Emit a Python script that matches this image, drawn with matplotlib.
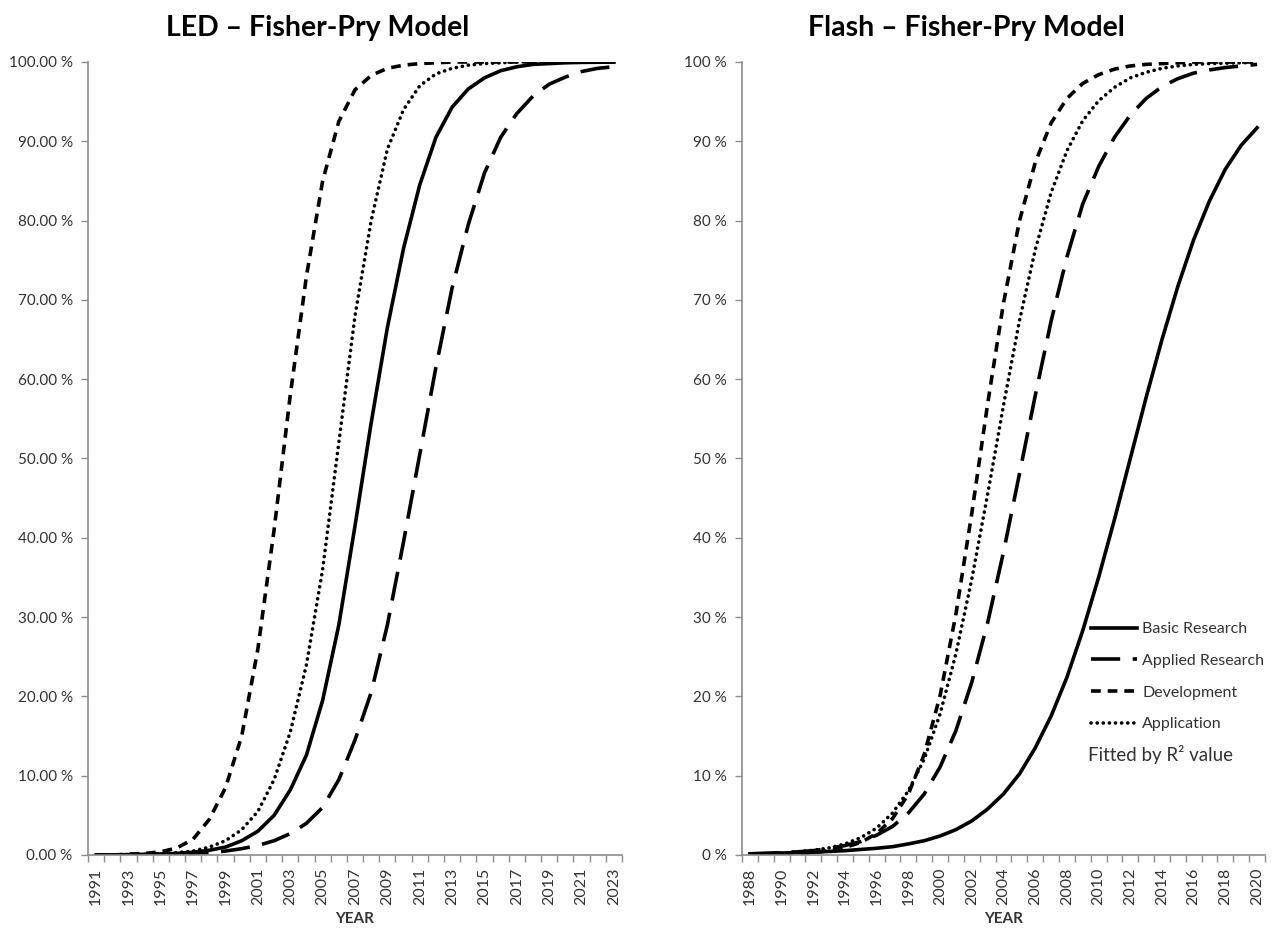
import matplotlib
matplotlib.use('Agg')
import matplotlib.pyplot as plt
import numpy as np
from matplotlib.ticker import FuncFormatter

plt.rcParams['font.family'] = ['Lato', 'DejaVu Sans']
plt.rcParams['lines.scale_dashes'] = False

# LED panel data (percent), 1991-2023
led_years = list(range(1991, 2024))
led_basic = [0.0, 0.0, 0.05, 0.08, 0.12, 0.2, 0.35, 0.6, 1.0, 1.8, 3.0, 5.0, 8.2, 12.6, 19.5, 29.0,
             41.5, 54.5, 66.5, 76.5, 84.5, 90.5, 94.3, 96.6, 98.0, 98.9, 99.4, 99.7, 99.8, 99.9,
             99.95, 99.97, 99.98]
led_applied = [0.0, 0.0, 0.02, 0.04, 0.06, 0.1, 0.2, 0.3, 0.5, 0.8, 1.2, 1.8, 2.7, 4.0, 6.0, 9.5,
               14.5, 20.5, 29.0, 39.5, 50.5, 61.5, 71.5, 79.5, 86.0, 90.5, 93.5, 95.7, 97.2, 98.1,
               98.8, 99.2, 99.4]
led_dev = [0.0, 0.0, 0.1, 0.2, 0.4, 0.9, 2.0, 4.5, 8.5, 15.0, 26.0, 41.0, 58.0, 73.0, 85.0, 92.5,
           96.5, 98.3, 99.2, 99.6, 99.8, 99.9, 100, 100, 100, 100, 100, 100, 100, 100,
           100, 100, 100]
led_app = [0.0, 0.0, 0.05, 0.1, 0.15, 0.3, 0.5, 1.0, 1.8, 3.2, 5.5, 9.5, 15.5, 24.0, 36.0, 52.0,
           68.0, 80.0, 89.0, 94.0, 97.0, 98.5, 99.2, 99.6, 99.8, 99.9, 100, 100, 100, 100,
           100, 100, 100]

# Flash panel data (percent), 1988-2020
flash_years = list(range(1988, 2021))
flash_basic = [0.15, 0.2, 0.25, 0.3, 0.35, 0.45, 0.55, 0.7, 0.85, 1.05, 1.4, 1.8, 2.4, 3.2, 4.3, 5.8,
               7.7, 10.2, 13.5, 17.5, 22.4, 28.3, 35.0, 42.3, 50.0, 57.7, 65.0, 71.7, 77.6, 82.5,
               86.5, 89.5, 91.7]
flash_applied = [0.15, 0.2, 0.3, 0.4, 0.55, 0.8, 1.2, 1.7, 2.5, 3.6, 5.3, 7.7, 11.1, 15.7, 21.8, 29.3,
                 38.2, 48.0, 57.9, 67.3, 75.4, 82.1, 86.8, 90.5, 93.3, 95.4, 96.9, 97.9, 98.6, 99.0,
                 99.3, 99.5, 99.7]
flash_dev = [0.1, 0.1, 0.15, 0.2, 0.32, 0.55, 0.95, 1.6, 2.7, 4.6, 7.7, 12.7, 20.1, 30.4, 43.1, 56.9,
             69.6, 79.9, 87.3, 92.3, 95.4, 97.3, 98.4, 99.1, 99.5, 99.7, 99.8, 99.9, 100, 100,
             100, 100, 100]
flash_app = [0.1, 0.15, 0.25, 0.4, 0.6, 0.9, 1.4, 2.2, 3.4, 5.3, 8.1, 12.1, 17.8, 25.4, 34.8, 45.5,
             56.7, 67.3, 76.3, 83.5, 88.8, 92.6, 95.1, 96.8, 98.0, 98.7, 99.2, 99.5, 99.7, 99.8,
             99.85, 99.9, 99.95]

labels = ['Basic Research', 'Applied Research', 'Development', 'Application']
grey = '#8c8c8c'
txt = '#333333'
lw = 2.6

W, H = 1285, 934
fig = plt.figure(figsize=(W / 100, H / 100), dpi=100)
ax1 = fig.add_axes([88 / W, 1 - 855 / H, (622 - 88) / W, (855 - 62) / H])
ax2 = fig.add_axes([742 / W, 1 - 855 / H, (1265 - 742) / W, (855 - 62) / H])


def draw(ax, years, basic, applied, dev, app):
    ax.plot(years, basic, color='black', lw=lw, ls='-', label=labels[0])
    ax.plot(years, applied, color='black', lw=lw, ls=(0, (21, 9)), label=labels[1])
    ax.plot(years, dev, color='black', lw=lw, ls=(0, (7, 5)), label=labels[2])
    ax.plot(years, app, color='black', lw=lw, ls=(0, (0.1, 4.3)), dash_capstyle='round',
            label=labels[3])


def style(ax, years, fmt):
    ax.set_xlim(years[0] - 0.5, years[-1] + 0.5)
    ax.set_ylim(0, 100)
    ax.set_yticks(np.arange(0, 101, 10))
    ax.yaxis.set_major_formatter(FuncFormatter(lambda v, p: fmt % v))
    ax.set_xticks(years[::2])
    ax.set_xticklabels([str(y) for y in years[::2]], rotation=90)
    ax.set_xticks(np.arange(years[0] - 0.5, years[-1] + 1, 1), minor=True)
    ax.tick_params(axis='x', which='major', length=0, pad=9, labelsize=11.5, labelcolor=txt)
    ax.tick_params(axis='x', which='minor', length=5, width=1, color=grey)
    ax.tick_params(axis='y', length=5, width=1, color=grey, pad=6, labelsize=11, labelcolor=txt)
    for s in ['top', 'right']:
        ax.spines[s].set_visible(False)
    for s in ['left', 'bottom']:
        ax.spines[s].set_color(grey)
        ax.spines[s].set_linewidth(1.2)
    ax.set_xlabel('YEAR', fontsize=11, fontweight='bold', color=txt, labelpad=5)


draw(ax1, led_years, led_basic, led_applied, led_dev, led_app)
draw(ax2, flash_years, flash_basic, flash_applied, flash_dev, flash_app)
style(ax1, led_years, '%.2f %%')
style(ax2, flash_years, '%.0f %%')

fig.text(318 / W, 1 - 28 / H, 'LED – Fisher-Pry Model', ha='center', va='center',
         fontsize=20.5, fontweight='bold')
fig.text(966 / W, 1 - 28 / H, 'Flash – Fisher-Pry Model', ha='center', va='center',
         fontsize=20.5, fontweight='bold')

ax2.legend(loc='upper left', bbox_to_anchor=(1091 / W, 1 - 622 / H), bbox_transform=fig.transFigure,
           frameon=False, fontsize=11.5, handlelength=2.9, labelspacing=1.1, handletextpad=0.3,
           borderpad=0, borderaxespad=0, labelcolor=txt)
fig.text(1088 / W, 1 - 755 / H, 'Fitted by R² value', ha='left', va='center', fontsize=13.5, color=txt)

fig.savefig('out.png', dpi=100, facecolor='white')
